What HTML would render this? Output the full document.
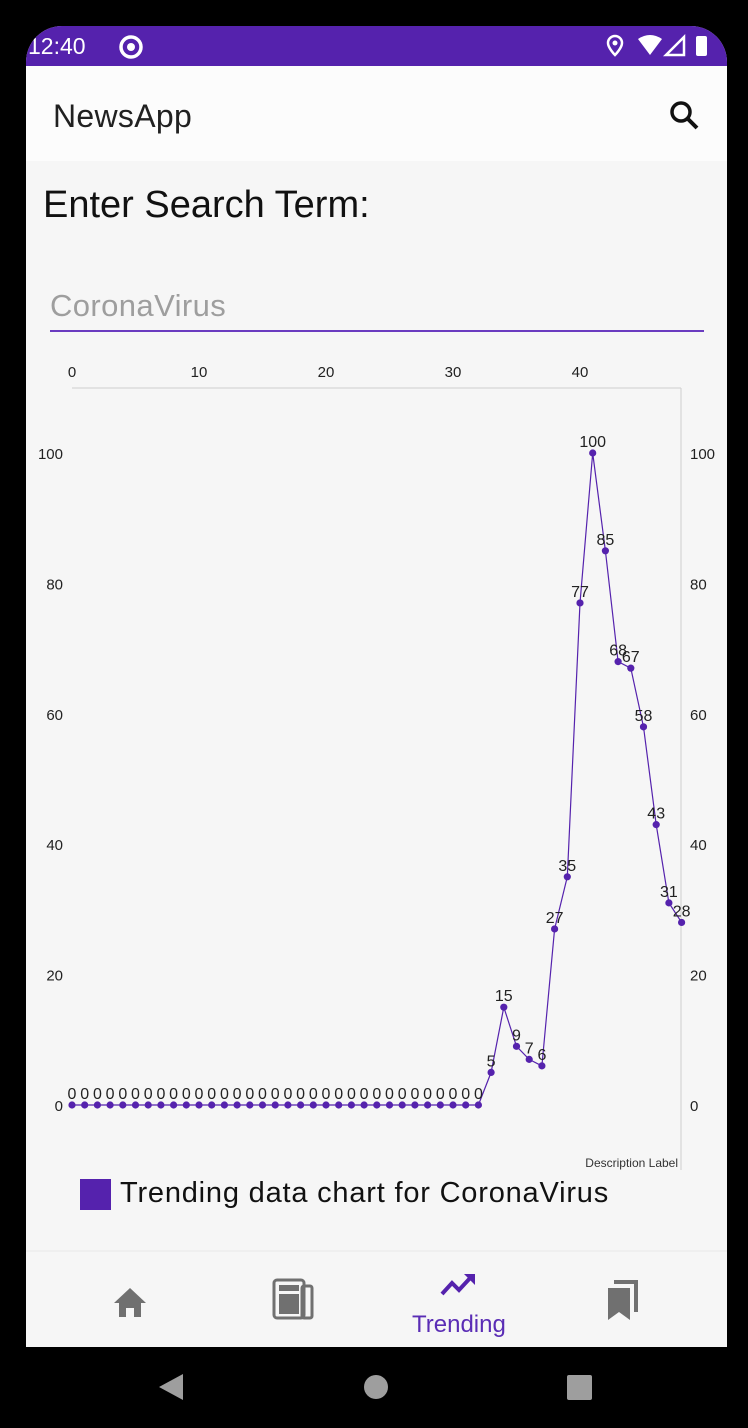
<!DOCTYPE html>
<html><head><meta charset="utf-8"><style>
body{margin:0;width:748px;height:1428px;background:#000;font-family:"Liberation Sans",sans-serif;overflow:hidden;position:relative}
.screen{position:absolute;left:26px;top:26px;width:701px;height:1402px;background:#f6f6f6;border-radius:36px 36px 0 0;overflow:hidden}
.status{position:absolute;left:0;top:0;width:701px;height:40px;background:#5522ad;color:#fff}
.appbar{position:absolute;left:0;top:40px;width:701px;height:95px;background:#fcfcfc}
.nav{position:absolute;left:0;top:1224px;width:701px;height:97px;background:#f6f6f6;border-top:2px solid #efefef}
.sysnav{position:absolute;left:0;top:1321px;width:701px;height:81px;background:#000}
</style></head><body>
<div class="screen">
 <div class="status">
  <span style="position:absolute;left:2px;top:7px;font-size:23px">12:40</span>
  <svg style="position:absolute;left:92px;top:8px" width="26" height="26"><circle cx="13" cy="13" r="10" stroke="#fff" stroke-width="3.5" fill="none"/><circle cx="13" cy="13" r="4" fill="#fff"/></svg>
  <svg style="position:absolute;left:578px;top:6px" width="110" height="28">
   <path d="M11 4a7 7 0 0 1 7 7c0 5-7 12-7 12s-7-7-7-12a7 7 0 0 1 7-7z" fill="none" stroke="#fff" stroke-width="2.5"/><circle cx="11" cy="11" r="2.5" fill="#fff"/>
   <path d="M34 7 Q46 -1 58 7 L46 23z" fill="#fff"/><path d="M80 5 L80 23 L62 23z" fill="none" stroke="#fff" stroke-width="2.5"/><rect x="92" y="4" width="11" height="20" rx="2" fill="#fff"/>
  </svg>
 </div>
 <div class="appbar">
  <span style="position:absolute;left:27px;top:32px;font-size:32px;color:#212121;letter-spacing:0.3px">NewsApp</span>
  <svg style="position:absolute;left:642px;top:33px" width="34" height="34"><circle cx="13" cy="13" r="9" stroke="#111" stroke-width="3.5" fill="none"/><line x1="19" y1="19" x2="29" y2="29" stroke="#111" stroke-width="4"/></svg>
 </div>
 <div style="position:absolute;left:17px;top:158px;font-size:38px;color:#111">Enter Search Term:</div>
 <div style="position:absolute;left:24px;top:262px;width:654px;height:42px;border-bottom:2px solid #6a3cc0;font-size:31px;color:#9e9e9e;letter-spacing:0.4px">CoronaVirus</div>
 <svg id="chart" style="position:absolute;left:-26px;top:-26px" width="748" height="1428"></svg>
 <div style="position:absolute;left:54px;top:1153px;width:31px;height:31px;background:#5522ad"></div>
 <div style="position:absolute;left:94px;top:1151px;font-size:29px;color:#111;letter-spacing:0.8px">Trending data chart for CoronaVirus</div>
 <div class="nav">
  <svg style="position:absolute;left:87px;top:34px" width="34" height="32"><path d="M17 2 L33 17 L28 17 L28 31 L21 31 L21 22 L13 22 L13 31 L6 31 L6 17 L1 17z" fill="#707070"/></svg>
  <svg style="position:absolute;left:246px;top:26px" width="44" height="42"><rect x="2" y="2" width="30" height="38" rx="3" fill="none" stroke="#707070" stroke-width="3"/><rect x="30" y="8" width="10" height="32" rx="2" fill="none" stroke="#707070" stroke-width="3"/><rect x="7" y="7" width="20" height="6" fill="#707070"/><rect x="7" y="16" width="20" height="20" fill="#707070"/></svg>
  <svg style="position:absolute;left:413px;top:18px" width="40" height="30"><path d="M3 24 L13 13 L20 20 L33 6" stroke="#5522ad" stroke-width="4" fill="none"/><path d="M25 4 L36 4 L36 15z" fill="#5522ad"/></svg>
  <div style="position:absolute;left:386px;top:59px;font-size:24px;color:#5a2db5">Trending</div>
  <svg style="position:absolute;left:580px;top:28px" width="34" height="42"><path d="M2 8 h22 v32 l-11-8 l-11 8z" fill="#707070"/><path d="M8 2 h22 v30" stroke="#707070" stroke-width="4" fill="none"/></svg>
 </div>
 <div class="sysnav">
  <svg width="701" height="81"><path d="M133 53 L157 40 L157 66z" transform="translate(0,-13)" fill="#9e9e9e"/><circle cx="350" cy="40" r="12" fill="#9e9e9e"/><rect x="541" y="28" width="25" height="25" rx="2" fill="#9e9e9e"/></svg>
 </div>
</div>
<script>
const values=[0,0,0,0,0,0,0,0,0,0,0,0,0,0,0,0,0,0,0,0,0,0,0,0,0,0,0,0,0,0,0,0,0,5,15,9,7,6,27,35,77,100,85,68,67,58,43,31,28];
const xTicks=[0,10,20,30,40];
const yTicks=[0,20,40,60,80,100];
const NS="http://www.w3.org/2000/svg";
const svg=document.getElementById('chart');
const X=i=>72+i*12.7, Y=v=>1105-v*6.52;
function mk(t,a,txt){const e=document.createElementNS(NS,t);for(const k in a)e.setAttribute(k,a[k]);if(txt!==undefined)e.textContent=txt;svg.appendChild(e);return e;}
let e=mk('line',{x1:72,y1:388,x2:681,y2:388,stroke:'#cfcfcf','stroke-width':1});

e=mk('line',{x1:681,y1:388,x2:681,y2:1170,stroke:'#cfcfcf','stroke-width':1});

xTicks.forEach(t=>{const l=mk('text',{x:X(t),y:377,'font-size':15,'text-anchor':'middle',fill:'#222'},t);
});
yTicks.forEach(t=>{let l=mk('text',{x:63,y:Y(t)+6,'font-size':15,'text-anchor':'end',fill:'#222'},t);

l=mk('text',{x:690,y:Y(t)+6,'font-size':15,fill:'#222'},t);
});
const p=mk('polyline',{points:values.map((v,i)=>X(i)+','+Y(v)).join(' '),fill:'none',stroke:'#5522ad','stroke-width':1.2});

values.forEach((v,i)=>{const c=mk('circle',{cx:X(i),cy:Y(v),r:3.6,fill:'#5522ad'});

const l=mk('text',{x:X(i),y:Y(v)-6,'font-size':16,'text-anchor':'middle',fill:'#222'},v);
});
e=mk('text',{x:678,y:1167,'font-size':12,'text-anchor':'end',fill:'#333'},'Description Label');

</script>
</body></html>
